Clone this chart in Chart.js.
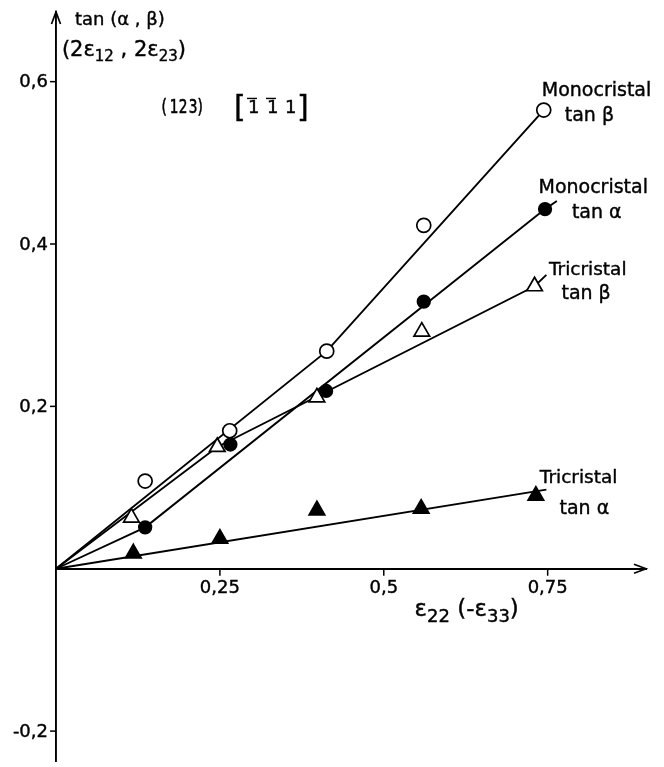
<!DOCTYPE html>
<html>
<head>
<meta charset="utf-8">
<script src="https://cdn.jsdelivr.net/npm/chart.js@4.4.0/dist/chart.umd.min.js"></script>
<style>
  html, body { margin: 0; padding: 0; background: #fff; overflow: hidden; }
  canvas { display: block; }
</style>
</head>
<body>
<!-- a bit taller than the window: the layout keeps 5px under the chart area -->
<canvas id="chart" width="664" height="772"></canvas>
<script>
// ==========================================================
// Data: x = ε22 (-ε33), y = tan(α, β)
// ==========================================================
const monoBetaX  = [0.136, 0.265, 0.413, 0.561, 0.744];
const monoBetaY  = [0.108, 0.170, 0.268, 0.423, 0.565];
const monoAlphaX = [0.136, 0.266, 0.412, 0.561, 0.746];
const monoAlphaY = [0.051, 0.153, 0.219, 0.329, 0.443];
const triBetaX   = [0.115, 0.246, 0.398, 0.558, 0.730];
const triBetaY   = [0.063, 0.150, 0.211, 0.292, 0.348];
const triAlphaX  = [0.118, 0.250, 0.398, 0.557, 0.732];
const triAlphaY  = [0.019, 0.037, 0.072, 0.074, 0.090];

// hand drawn fit lines (vertices), with the little leader to the label
const monoBetaFitX  = [0, 0.413, 0.744];
const monoBetaFitY  = [0, 0.268, 0.565];
const monoAlphaFitX = [0, 0.136, 0.746, 0.764];
const monoAlphaFitY = [0, 0.051, 0.443, 0.453];
const triBetaFitX   = [0, 0.246, 0.730, 0.748];
const triBetaFitY   = [0, 0.150, 0.348, 0.362];
const triAlphaFitX  = [0, 0.748];
const triAlphaFitY  = [0, 0.0975];

const xTicks = [0.25, 0.5, 0.75];
const yTicks = [-0.2, 0.2, 0.4, 0.6];

const FONT = '"DejaVu Sans", sans-serif';

function pts(xs, ys) {
  return xs.map(function(v, i) { return { x: v, y: ys[i] }; });
}

function fitLine(xs, ys) {
  return {
    data: pts(xs, ys), showLine: true, pointRadius: 0,
    borderColor: '#000', borderWidth: 1.9, order: 2, clip: false
  };
}

function markers(xs, ys, style, filled, r) {
  return {
    data: pts(xs, ys), showLine: false, pointStyle: style, pointRadius: r,
    backgroundColor: filled ? '#000' : '#fff', borderColor: '#000',
    borderWidth: 1.7, order: 1, clip: false
  };
}

function fmt(v) {
  return String(Math.round(v * 100) / 100).replace('.', ',');
}

// ==========================================================
// Ticks, arrows and the hand lettering
// ==========================================================
const ink = {
  id: 'ink',
  afterDraw: function(chart) {
    const ctx = chart.ctx, a = chart.chartArea;
    const xs = chart.scales.x, ys = chart.scales.y;
    const x0 = xs.getPixelForValue(0), y0 = ys.getPixelForValue(0);
    const px = function(v) { return xs.getPixelForValue(v); };
    const py = function(v) { return ys.getPixelForValue(v); };

    ctx.save();
    ctx.strokeStyle = '#000';
    ctx.fillStyle = '#000';
    ctx.lineWidth = 1.7;

    // arrow heads
    ctx.beginPath();
    ctx.moveTo(x0 - 4.5, a.top + 12); ctx.lineTo(x0, a.top); ctx.lineTo(x0 + 4.5, a.top + 12);
    ctx.moveTo(a.right - 12, y0 - 4.5); ctx.lineTo(a.right, y0); ctx.lineTo(a.right - 12, y0 + 4.5);
    ctx.stroke();

    function word(s, x, y) {
      ctx.fillText(s, x, y);
      ctx.lineWidth = 0.4;
      ctx.strokeText(s, x, y);
    }

    // tick marks and tick labels from the scales
    ctx.font = '18px ' + FONT;
    ctx.textBaseline = 'middle';
    ctx.textAlign = 'center';
    xs.ticks.forEach(function(t) {
      const p = px(t.value);
      ctx.lineWidth = 1.5;
      ctx.beginPath(); ctx.moveTo(p, y0); ctx.lineTo(p, y0 + 7); ctx.stroke();
      word(fmt(t.value), p, y0 + 20);
    });
    ctx.textAlign = 'right';
    ys.ticks.forEach(function(t) {
      const p = py(t.value);
      ctx.lineWidth = 1.5;
      ctx.beginPath(); ctx.moveTo(x0 - 6, p); ctx.lineTo(x0, p); ctx.stroke();
      word(fmt(t.value), x0 - 8, p + 1);
    });

    ctx.textAlign = 'left';

    // parts: [text, size, dy]
    function put(parts, xv, yv) {
      let x = px(xv);
      const y = py(yv);
      parts.forEach(function(p) {
        ctx.font = p[1] + 'px ' + FONT;
        word(p[0], x, y + (p[2] || 0));
        x += ctx.measureText(p[0]).width;
      });
    }

    put([['tan (α , β)', 18]], 0.029, 0.675);
    put([['(2ε', 21], ['12', 15, 6], [' , 2ε', 21], ['23', 15, 6], [')', 21]], 0.009, 0.638);

    // (1 2 3), narrow lettering
    const gx = px(0.161), gy = py(0.567);
    ctx.font = '19px ' + FONT;
    ctx.textAlign = 'center';
    [['(', 2.5], ['1', 12.5], ['2', 21.5], ['3', 31.5], [')', 38.5]].forEach(function(c) {
      ctx.save();
      ctx.translate(gx + c[1], gy);
      ctx.scale(0.72, 1);
      ctx.fillText(c[0], 0, 0);
      ctx.lineWidth = 0.6;
      ctx.strokeText(c[0], 0, 0);
      ctx.restore();
    });
    ctx.textAlign = 'left';

    // [1̄ 1̄ 1]
    const bx = px(0.273), by = py(0.567);
    ctx.font = '30px ' + FONT;
    word('[', bx - 1, by + 1);
    word(']', bx + 62, by + 1);
    ctx.font = '18px ' + FONT;
    [13, 32, 50].forEach(function(dx, i) {
      word('1', bx + dx, by);
      if (i < 2) {
        ctx.beginPath();
        ctx.lineWidth = 1.4;
        ctx.moveTo(bx + dx - 1, by - 10);
        ctx.lineTo(bx + dx + 9, by - 10);
        ctx.stroke();
      }
    });

    put([['ε', 23], ['22', 18, 7], [' (-ε', 23], ['33', 18, 7], [')', 23]], 0.547, -0.051);

    put([['Monocristal', 19]], 0.741, 0.588);
    put([['tan β', 19]], 0.776, 0.558);
    put([['Monocristal', 19]], 0.736, 0.469);
    put([['tan α', 19]], 0.787, 0.438);
    put([['Tricristal', 18.5]], 0.752, 0.368);
    put([['tan β', 19]], 0.771, 0.338);
    put([['Tricristal', 18.5]], 0.738, 0.111);
    put([['tan α', 19]], 0.768, 0.073);
    ctx.restore();
  }
};

new Chart(document.getElementById('chart'), {
  type: 'scatter',
  data: {
    datasets: [
      markers(monoBetaX, monoBetaY, 'circle', false, 7),
      markers(monoAlphaX, monoAlphaY, 'circle', true, 6.3),
      markers(triBetaX, triBetaY, 'triangle', false, 9),
      markers(triAlphaX, triAlphaY, 'triangle', true, 9),
      fitLine(monoBetaFitX, monoBetaFitY),
      fitLine(monoAlphaFitX, monoAlphaFitY),
      fitLine(triBetaFitX, triBetaFitY),
      fitLine(triAlphaFitX, triAlphaFitY)
    ]
  },
  options: {
    responsive: false,
    animation: false,
    layout: { padding: { left: 56, right: 18, top: 12, bottom: 0 } },
    plugins: { legend: { display: false }, tooltip: { enabled: false } },
    scales: {
      x: {
        type: 'linear', min: 0, max: 0.9, position: { y: 0 },
        afterBuildTicks: function(s) { s.ticks = xTicks.map(function(v) { return { value: v }; }); },
        grid: { display: false },
        border: { display: true, color: '#000', width: 1.9 },
        ticks: { display: false }
      },
      y: {
        type: 'linear', min: -0.2372, max: 0.6858, position: { x: 0 },
        afterBuildTicks: function(s) { s.ticks = yTicks.map(function(v) { return { value: v }; }); },
        grid: { display: false },
        border: { display: true, color: '#000', width: 1.9 },
        ticks: { display: false }
      }
    }
  },
  plugins: [ink]
});
</script>
</body>
</html>
